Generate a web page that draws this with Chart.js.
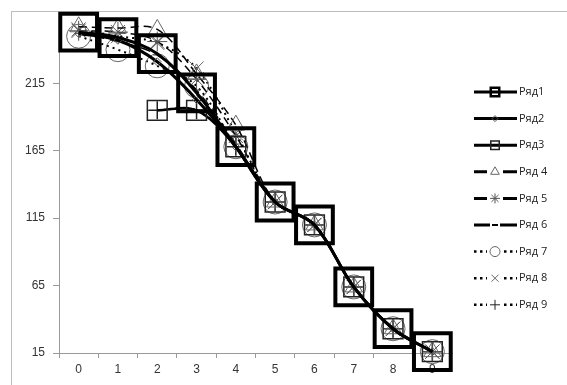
<!DOCTYPE html>
<html><head><meta charset="utf-8">
<script src="https://cdn.jsdelivr.net/npm/chart.js@4"></script>
<style>html,body{margin:0;padding:0;background:#fff;}#wrap{width:567px;height:385px;}</style>
</head><body><div id="wrap"><canvas id="c" width="567" height="385"></canvas></div>
<script>
const categories = ['0','1','2','3','4','5','6','7','8','9'];
const yTicks = [15, 65, 115, 165, 215];
const seriesNames = ['Ряд1','Ряд2','Ряд3','Ряд 4','Ряд 5','Ряд 6','Ряд 7','Ряд 8','Ряд 9'];
const r1 = [253, 249, 237, 208, 168, 127, 110, 64, 33, 16];
const r2 = [252, 247, 231, 203, 168, 127, 110, 64, 33, 16];
const r3 = [null, null, 195, 195, 168, 127, 110, 64, 33, 16];
const r4 = [257, 256, 255, 222, 184, 127, 110, 64, 33, 16];
const r5 = [254, 253, 246, 218, 176, 127, 110, 64, 33, 16];
const r6 = [252, 246, 236, 210, 170, 127, 110, 64, 33, 16];
const r7 = [250, 240, 228, 213, 168, 127, 110, 64, 33, 16];
const r8 = [255, 250, 245, 226, 178, 127, 110, 64, 33, 16];
const r9 = [null, null, 195, 195, 168, 127, 110, 64, 33, 16];
const seriesValues = [r1, r2, r3, r4, r5, r6, r7, r8, r9];

const styles = [
  {ps:'rect', r:26, pw:4, pc:'#000', lw:3, dash:[], lr:6, lpw:2.5},
  {ps:'rectRot', r:4, pw:1, pc:'#555', lw:3, dash:[], lr:3, lpw:1},
  {ps:'rect', r:14, pw:1.5, pc:'#222', lw:2.5, dash:[], lr:6, lpw:1.5},
  {ps:'triangle', r:10, pw:1, pc:'#666', lw:1.5, dash:[8,5], lr:5, lpw:1},
  {ps:'star', r:10, pw:1, pc:'#555', lw:1.5, dash:[8,5], lr:5, lpw:1},
  {ps:'line', r:4, pw:1, pc:'#555', lw:1.5, dash:[10,6], lr:3, lpw:1},
  {ps:'circle', r:12, pw:1, pc:'#666', lw:2, dash:[2,4], lr:5, lpw:1},
  {ps:'crossRot', r:10, pw:1, pc:'#666', lw:2, dash:[2,4], lr:5, lpw:1},
  {ps:'cross', r:9, pw:1.5, pc:'#222', lw:2, dash:[2,4], lr:5, lpw:1}
];

const datasets = seriesValues.map((vals, i) => ({
  label: seriesNames[i],
  data: vals,
  borderColor: '#000',
  borderWidth: styles[i].lw,
  borderDash: styles[i].dash,
  tension: 0.35,
  spanGaps: false,
  clip: false,
  pointStyle: styles[i].ps,
  pointRadius: styles[i].r,
  pointBorderWidth: styles[i].pw,
  pointBorderColor: styles[i].pc,
  pointBackgroundColor: 'rgba(0,0,0,0)',
  pointHoverRadius: styles[i].r,
  fill: false
}));

const framePlugin = {
  id: 'frame',
  beforeDraw(chart) {
    const ctx = chart.ctx;
    ctx.save();
    ctx.strokeStyle = '#bdbdbd';
    ctx.lineWidth = 1;
    ctx.strokeRect(11.5, 11.5, 620, 420);
    ctx.restore();
  }
};

const legendPlugin = {
  id: 'customLegend',
  afterDraw(chart) {
    const ctx = chart.ctx;
    ctx.save();
    seriesNames.forEach((name, i) => {
      const y = 92 + i * 26.6;
      const st = styles[i];
      ctx.strokeStyle = '#000';
      ctx.lineWidth = 3;
      if (st.dash.length && st.dash[0] === 2) {
        ctx.lineWidth = 2.5;
        ctx.setLineDash([2.5, 3.5]);
      } else {
        ctx.setLineDash([]);
      }
      ctx.beginPath();
      ctx.moveTo(474, y);
      ctx.lineTo(517, y);
      ctx.stroke();
      ctx.setLineDash([]);
      if (st.dash.length) {
        ctx.fillStyle = '#fff';
        const g = st.ps === 'line' ? 5 : st.lr + 3;
        ctx.fillRect(495 - g, y - 3, 2 * g, 6);
      }
      ctx.strokeStyle = st.pc;
      ctx.lineWidth = st.lpw;
      if (st.ps === 'line') {
        ctx.strokeStyle = '#000';
        ctx.lineWidth = 2;
      }
      ctx.fillStyle = 'rgba(0,0,0,0)';
      Chart.helpers.drawPoint(ctx, {pointStyle: st.ps, radius: st.lr, rotation: 0, borderWidth: st.lpw}, 495, y);
      ctx.fillStyle = '#222';
      ctx.font = '11px "Open Sans", sans-serif';
      ctx.textBaseline = 'middle';
      ctx.textAlign = 'left';
      ctx.fillText(name, 519, y);
    });
    ctx.restore();
  }
};

new Chart(document.getElementById('c'), {
  type: 'line',
  data: { labels: categories, datasets },
  options: {
    responsive: false,
    animation: false,
    layout: { autoPadding: false, padding: { left: 0, right: 115, top: 20, bottom: 0 } },
    plugins: { legend: { display: false }, tooltip: { enabled: false } },
    scales: {
      x: {
        type: 'category',
        offset: true,
        grid: { offset: true, drawOnChartArea: false, tickLength: 5, color: '#999' },
        border: { color: '#999', width: 1 },
        ticks: { color: '#333', font: { family: '"Liberation Sans", sans-serif', size: 12 }, padding: 4 },
        afterFit(s) { s.height = 32; }
      },
      y: {
        min: 15, max: 262,
        grid: { drawOnChartArea: false, tickLength: 6, color: '#999' },
        border: { color: '#999', width: 1 },
        ticks: { color: '#333', font: { family: '"Liberation Sans", sans-serif', size: 12 }, padding: 8 },
        afterBuildTicks(s) { s.ticks = yTicks.map(v => ({ value: v })); },
        afterFit(s) { s.width = 59; }
      }
    }
  },
  plugins: [framePlugin, legendPlugin]
});
</script></body></html>
